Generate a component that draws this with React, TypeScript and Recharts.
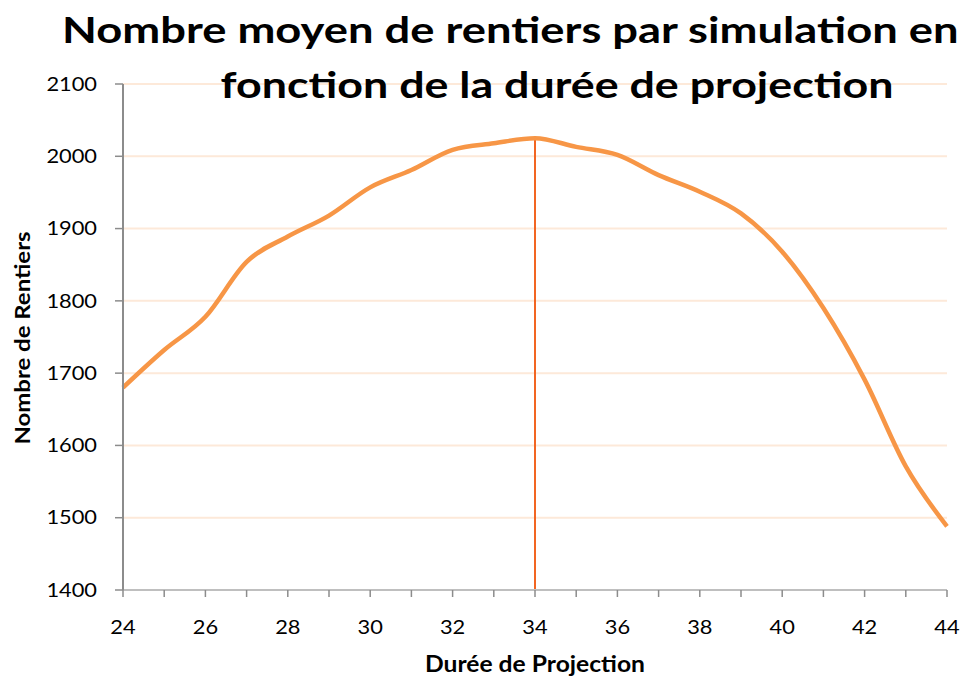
import React from 'react';
import { LineChart, Line, XAxis, YAxis, CartesianGrid, ReferenceLine } from 'recharts';

const durations = [24, 25, 26, 27, 28, 29, 30, 31, 32, 33, 34, 35, 36, 37, 38, 39, 40, 41, 42, 43, 44];
const rentiers = [1680, 1732, 1778, 1854, 1889, 1918, 1957, 1981, 2009, 2018, 2025, 2013, 2002, 1974, 1951, 1921, 1868, 1790, 1691, 1571, 1488];
const yTicks = [1400, 1500, 1600, 1700, 1800, 1900, 2000, 2100];
const peakDuration = 34;

const titleLine1 = 'Nombre moyen de rentiers par simulation en';
const titleLine2 = 'fonction de la durée de projection';

const data = durations.map((d, i) => ({ duree: d, rentiers: rentiers[i] }));
const peakValue = rentiers[durations.indexOf(peakDuration)];

const font = 'Lato, "Open Sans", sans-serif';
// the reference text is a bit wider than Lato, stretch it horizontally
const stretch = 1.18;

const XTick = ({ x, y, payload }: any) => {
  if (payload.value % 2 !== 0) return null;
  return (
    <g transform={`translate(${x},${y})`}>
      <text transform={`scale(${stretch},1)`} textAnchor="middle" dy="0.71em" fontSize={18.5} fontFamily={font} fill="#000">
        {payload.value}
      </text>
    </g>
  );
};

const YTick = ({ x, y, payload }: any) => (
  <g transform={`translate(${x},${y})`}>
    <text transform={`scale(${stretch},1)`} textAnchor="end" dy="0.36em" fontSize={18.5} fontFamily={font} fill="#000">
      {payload.value}
    </text>
  </g>
);

export default function App() {
  return (
    <div style={{ position: 'absolute', left: 0, top: 0, width: 962, height: 680, overflow: 'hidden', background: '#fff', fontFamily: font }}>
      <LineChart
        width={962}
        height={680}
        data={data}
        margin={{ top: 84, right: 15, left: 63, bottom: 50 }}
      >
        <CartesianGrid vertical={false} stroke="#fde9d9" strokeWidth={2} />
        <XAxis
          dataKey="duree"
          type="number"
          domain={[24, 44]}
          ticks={durations}
          interval={0}
          axisLine={{ stroke: '#bfbfbf', strokeWidth: 2 }}
          tickLine={{ stroke: '#8c8c8c', strokeWidth: 1.5 }}
          tickSize={7}
          tick={XTick}
          tickMargin={24}
          height={40}
        />
        <YAxis
          domain={[1400, 2100]}
          ticks={yTicks}
          interval={0}
          axisLine={{ stroke: '#8c8c8c', strokeWidth: 2 }}
          tickLine={{ stroke: '#8c8c8c', strokeWidth: 1.5 }}
          tickSize={8}
          tick={YTick}
          tickMargin={18}
          width={60}
        />
        <ReferenceLine
          segment={[{ x: peakDuration, y: 1400 }, { x: peakDuration, y: peakValue }]}
          stroke="#f26522"
          strokeWidth={2}
        />
        <Line
          type="monotone"
          dataKey="rentiers"
          stroke="#f79646"
          strokeWidth={4.5}
          dot={false}
          isAnimationActive={false}
        />
      </LineChart>

      <div style={{ position: 'absolute', left: 62, top: 5, whiteSpace: 'nowrap', fontSize: 37, fontWeight: 700, lineHeight: '48px', transform: 'scaleX(1.225)', transformOrigin: 'left center' }}>
        {titleLine1}
      </div>
      <div style={{ position: 'absolute', left: 557, top: 60, transform: 'translateX(-50%) scaleX(1.21)', whiteSpace: 'nowrap', fontSize: 37, fontWeight: 700, lineHeight: '48px' }}>
        {titleLine2}
      </div>
      <div style={{ position: 'absolute', left: 535, top: 650, transform: 'translateX(-50%) scaleX(1.12)', whiteSpace: 'nowrap', fontSize: 22, fontWeight: 700, lineHeight: '28px' }}>
        Durée de Projection
      </div>
      <div style={{ position: 'absolute', left: 22, top: 338, transform: 'translate(-50%, -50%) rotate(-90deg) scaleX(1.14)', whiteSpace: 'nowrap', fontSize: 21, fontWeight: 700, lineHeight: '26px' }}>
        Nombre de Rentiers
      </div>
    </div>
  );
}
